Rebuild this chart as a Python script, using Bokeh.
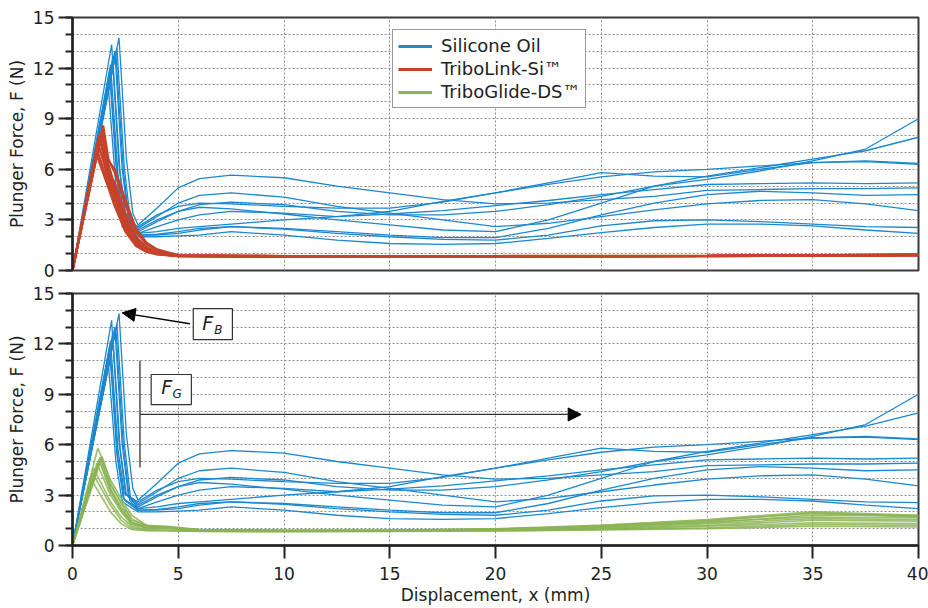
from bokeh.plotting import figure
from bokeh.layouts import column
from bokeh.models import (FixedTicker, Legend, LegendItem, Arrow, NormalHead,
                          Label, BoxAnnotation, Range1d)
from bokeh.embed import file_html
from bokeh.resources import INLINE

FONT = "DejaVu Sans"
BLUE = "#1b88d0"
RED = "#c5432b"
GREEN = "#8bb454"
NAN = float("nan")

X_TICKS = [0, 5, 10, 15, 20, 25, 30, 35, 40]
Y_TICKS = [0, 3, 6, 9, 12, 15]
Y_MINOR = list(range(0, 16))

# ---------------- Silicone Oil (blue) ----------------
SILICONE_PEAK_X = [2.2, 1.85, 2.0, 1.9, 1.8, 2.1, 1.75, 1.8, 2.05, 1.7]
SILICONE_PEAK_Y = [13.8, 13.4, 13.0, 12.6, 12.2, 13.2, 11.8, 11.2, 12.9, 10.8]
SILICONE_FALL_X = [[2.55, 2.85], [2.2, 2.5], [2.35, 2.65], [2.25, 2.55], [2.15, 2.45],
                   [2.45, 2.75], [2.1, 2.4], [2.15, 2.45], [2.4, 2.7], [2.05, 2.35]]
SILICONE_FALL_Y = [[6.6, 3.4], [6.2, 3.1], [6.0, 2.9], [5.8, 3.0], [5.7, 3.1],
                   [6.1, 2.8], [5.4, 2.8], [5.2, 2.7], [6.0, 2.7], [5.0, 2.6]]
SILICONE_POST_X = [3.1, 4, 5, 6, 7.5, 10, 12.5, 15, 17.5, 20, 22.5, 25, 27.5, 30, 32.5, 35, 37.5, 40]
SILICONE_POST_Y = [
    [2.7, 3.7, 4.9, 5.45, 5.65, 5.5, 5.0, 4.6, 4.2, 3.95, 4.0, 4.2, 4.4, 4.75, 4.8, 4.85, 4.85, 4.9],
    [2.5, 3.2, 4.0, 4.45, 4.6, 4.35, 3.8, 3.4, 3.0, 2.6, 2.8, 3.2, 3.6, 3.95, 4.15, 4.2, 3.95, 3.55],
    [2.3, 2.9, 3.5, 3.9, 4.05, 3.9, 3.5, 3.3, 3.3, 3.5, 3.9, 4.4, 5.0, 5.4, 5.9, 6.5, 7.2, 9.0],
    [2.4, 3.0, 3.5, 3.75, 3.65, 3.35, 3.0, 2.7, 2.4, 2.3, 3.0, 4.0, 5.0, 5.6, 6.1, 6.6, 7.1, 7.9],
    [2.6, 3.3, 3.8, 4.0, 3.95, 3.8, 3.7, 3.7, 4.05, 4.6, 5.1, 5.55, 5.85, 6.0, 6.2, 6.4, 6.45, 6.3],
    [2.2, 2.6, 3.0, 3.3, 3.5, 3.4, 3.2, 3.5, 4.1, 4.6, 5.2, 5.8, 5.6, 5.55, 6.0, 6.4, 6.5, 6.35],
    [2.2, 2.3, 2.5, 2.6, 2.75, 3.0, 3.2, 3.35, 3.55, 3.85, 4.15, 4.5, 4.8, 5.1, 5.15, 5.2, 5.15, 5.2],
    [2.1, 2.15, 2.3, 2.5, 2.6, 2.5, 2.3, 2.1, 1.95, 1.95, 2.5, 3.3, 4.0, 4.5, 4.7, 4.6, 4.45, 4.5],
    [2.1, 2.1, 2.2, 2.4, 2.6, 2.45, 2.2, 2.0, 1.85, 1.8, 2.1, 2.65, 2.95, 3.0, 2.9, 2.75, 2.6, 2.55],
    [2.0, 2.0, 2.05, 2.1, 2.3, 2.1, 1.8, 1.6, 1.55, 1.6, 1.9, 2.25, 2.55, 2.75, 2.75, 2.65, 2.4, 2.2],
]

# ---------------- TriboLink-Si (red) ----------------
TRIBOLINK_PEAK_X = [1.45, 1.35, 1.3, 1.2, 1.25, 1.15, 1.4, 1.1, 1.3, 1.2]
TRIBOLINK_PEAK_Y = [8.6, 8.2, 7.9, 7.6, 8.0, 7.2, 8.3, 7.0, 7.7, 7.4]
TRIBOLINK_POST_X = [1.7, 2.0, 2.5, 3.0, 3.5, 4, 5, 10, 20, 30, 40]
TRIBOLINK_POST_Y = [
    [6.6, 5.8, 3.9, 2.3, 1.55, 1.2, 0.9, 0.85, 0.85, 0.86, 0.93],
    [6.3, 5.0, 3.1, 1.9, 1.3, 1.05, 0.87, 0.82, 0.84, 0.86, 0.9],
    [5.9, 4.8, 2.9, 1.8, 1.25, 1.02, 0.86, 0.83, 0.82, 0.85, 0.93],
    [5.4, 4.3, 2.6, 1.6, 1.2, 0.98, 0.85, 0.84, 0.83, 0.86, 0.95],
    [6.0, 4.7, 2.8, 1.7, 1.25, 1.03, 0.87, 0.85, 0.85, 0.87, 0.92],
    [5.1, 4.0, 2.4, 1.5, 1.15, 0.97, 0.85, 0.82, 0.84, 0.85, 0.9],
    [6.5, 6.0, 4.2, 2.5, 1.65, 1.25, 0.92, 0.86, 0.86, 0.88, 0.94],
    [4.9, 3.8, 2.3, 1.45, 1.1, 0.95, 0.85, 0.83, 0.83, 0.85, 0.9],
    [5.7, 4.5, 2.7, 1.65, 1.2, 1.0, 0.86, 0.84, 0.84, 0.86, 0.93],
    [5.8, 5.2, 3.4, 2.0, 1.4, 1.1, 0.9, 0.85, 0.85, 0.87, 0.95],
]

# ---------------- TriboGlide-DS (green) ----------------
TRIBOGLIDE_PEAK_X = [1.2, 1.3, 1.35, 1.25, 1.4, 1.0, 0.95, 0.9, 1.15, 1.3]
TRIBOGLIDE_PEAK_Y = [5.8, 5.25, 5.2, 5.1, 5.3, 4.6, 4.3, 3.9, 4.9, 5.0]
TRIBOGLIDE_POST_X = [1.8, 2.3, 2.8, 3.5, 4.5, 6, 10, 15, 20, 25, 30, 35, 40]
TRIBOGLIDE_POST_Y = [
    [3.9, 2.8, 1.8, 1.2, 1.05, 0.95, 0.9, 0.9, 0.95, 1.15, 1.45, 1.95, 1.75],
    [3.6, 2.6, 1.6, 1.15, 1.1, 0.9, 0.88, 0.9, 0.95, 1.2, 1.5, 1.9, 1.7],
    [3.4, 2.3, 1.4, 1.1, 1.05, 0.92, 0.87, 0.88, 1.0, 1.1, 1.35, 1.8, 1.8],
    [3.2, 2.1, 1.3, 1.05, 1.0, 0.9, 0.86, 0.9, 0.98, 1.05, 1.3, 1.6, 1.55],
    [3.7, 2.5, 1.5, 1.2, 1.15, 0.95, 0.9, 0.88, 0.92, 1.0, 1.2, 1.5, 1.45],
    [2.6, 1.7, 1.15, 0.95, 0.9, 0.85, 0.85, 0.87, 0.9, 1.0, 1.15, 1.35, 1.3],
    [2.4, 1.5, 1.05, 0.9, 0.9, 0.85, 0.83, 0.85, 0.88, 0.95, 1.05, 1.25, 1.2],
    [2.0, 1.3, 0.95, 0.88, 0.88, 0.84, 0.82, 0.84, 0.86, 0.92, 1.0, 1.15, 1.1],
    [3.0, 2.0, 1.25, 1.05, 1.05, 0.92, 0.88, 0.9, 0.95, 1.1, 1.4, 1.7, 1.65],
    [3.3, 2.2, 1.35, 1.1, 1.1, 0.93, 0.9, 0.92, 1.0, 1.2, 1.55, 2.0, 1.8],
]

LEGEND_LABELS = ["Silicone Oil", "TriboLink-Si\u2122", "TriboGlide-DS\u2122"]
Y_LABEL = "Plunger Force, F (N)"
X_LABEL = "Displacement, x (mm)"

TEXT_SIZE = "17px"
LEGEND_SIZE = "18px"
INK = "#222222"


def silicone_curves():
    xs, ys = [], []
    for i in range(len(SILICONE_PEAK_X)):
        xs.append([0.0, SILICONE_PEAK_X[i]] + SILICONE_FALL_X[i] + SILICONE_POST_X)
        ys.append([0.0, SILICONE_PEAK_Y[i]] + SILICONE_FALL_Y[i] + SILICONE_POST_Y[i])
    return xs, ys


def simple_curves(peak_x, peak_y, post_x, post_y):
    xs, ys = [], []
    for i in range(len(peak_x)):
        xs.append([0.0, peak_x[i]] + post_x)
        ys.append([0.0, peak_y[i]] + post_y[i])
    return xs, ys


def make_fig(height, border_top, border_bottom):
    p = figure(width=928, height=height, x_range=Range1d(0, 40), y_range=Range1d(0, 15),
               output_backend="svg", toolbar_location=None,
               min_border_left=72, min_border_right=10,
               min_border_top=border_top, min_border_bottom=border_bottom)
    p.outline_line_color = "#3a3a3a"
    p.outline_line_width = 2
    p.outline_line_alpha = 1
    p.background_fill_color = "white"
    p.border_fill_color = "white"

    p.xgrid.ticker = FixedTicker(ticks=[5, 10, 15, 20, 25, 30, 35])
    p.ygrid.ticker = FixedTicker(ticks=list(range(1, 15)))
    for g in (p.xgrid, p.ygrid):
        g.grid_line_color = "#8c8c8c"
        g.grid_line_dash = "2 2"
        g.grid_line_width = 1

    ya = p.yaxis[0]
    ya.ticker = FixedTicker(ticks=Y_TICKS, minor_ticks=Y_MINOR)
    ya.axis_line_color = INK
    ya.axis_line_width = 2.5
    ya.major_tick_line_color = INK
    ya.major_tick_line_width = 2
    ya.major_tick_out = 14
    ya.major_tick_in = 0
    ya.minor_tick_line_color = INK
    ya.minor_tick_line_width = 2
    ya.minor_tick_out = 7
    ya.minor_tick_in = 0
    ya.major_label_text_font = FONT
    ya.major_label_text_font_size = TEXT_SIZE
    ya.major_label_text_color = INK
    ya.major_label_standoff = 4
    ya.axis_label = Y_LABEL
    ya.axis_label_text_font = FONT
    ya.axis_label_text_font_size = TEXT_SIZE
    ya.axis_label_text_font_style = "normal"
    ya.axis_label_text_color = INK
    ya.axis_label_standoff = 3

    xa = p.xaxis[0]
    xa.ticker = FixedTicker(ticks=X_TICKS)
    xa.axis_line_color = INK
    xa.axis_line_width = 2.5
    xa.major_tick_line_color = INK
    xa.major_tick_line_width = 2
    xa.major_tick_out = 13
    xa.major_tick_in = 0
    xa.minor_tick_line_color = None
    xa.major_label_text_font = FONT
    xa.major_label_text_font_size = TEXT_SIZE
    xa.major_label_text_color = INK
    xa.major_label_standoff = 8
    xa.axis_label = X_LABEL
    xa.axis_label_text_font = FONT
    xa.axis_label_text_font_size = TEXT_SIZE
    xa.axis_label_text_font_style = "normal"
    xa.axis_label_text_color = INK
    xa.axis_label_standoff = 2
    return p


sil_xs, sil_ys = silicone_curves()
red_xs, red_ys = simple_curves(TRIBOLINK_PEAK_X, TRIBOLINK_PEAK_Y, TRIBOLINK_POST_X, TRIBOLINK_POST_Y)
grn_xs, grn_ys = simple_curves(TRIBOGLIDE_PEAK_X, TRIBOGLIDE_PEAK_Y, TRIBOGLIDE_POST_X, TRIBOGLIDE_POST_Y)

# ---------------- top panel ----------------
p1 = make_fig(281, 17, 11)
p1.xaxis.visible = False
p1.multi_line(xs=sil_xs, ys=sil_ys, line_color=BLUE, line_width=1.3)
p1.multi_line(xs=red_xs, ys=red_ys, line_color=RED, line_width=2.2)

# legend-only renderers (no visible data)
lb = p1.line(x=[NAN, NAN], y=[NAN, NAN], line_color=BLUE, line_width=3)
lr = p1.line(x=[NAN, NAN], y=[NAN, NAN], line_color=RED, line_width=3)
lg = p1.line(x=[NAN, NAN], y=[NAN, NAN], line_color=GREEN, line_width=3)
legend = Legend(items=[LegendItem(label=LEGEND_LABELS[0], renderers=[lb]),
                       LegendItem(label=LEGEND_LABELS[1], renderers=[lr]),
                       LegendItem(label=LEGEND_LABELS[2], renderers=[lg])],
                location=(320, 162), orientation="vertical",
                label_text_font=FONT, label_text_font_size=LEGEND_SIZE, label_text_color=INK,
                glyph_width=34, glyph_height=20, label_height=20, spacing=2,
                padding=5, margin=0, label_standoff=9,
                border_line_color="#333333", border_line_width=1.5,
                background_fill_color="white", background_fill_alpha=1)
p1.add_layout(legend)

# ---------------- bottom panel ----------------
p2 = make_fig(327, 12, 63)
p2.multi_line(xs=sil_xs, ys=sil_ys, line_color=BLUE, line_width=1.3)
p2.multi_line(xs=grn_xs, ys=grn_ys, line_color=GREEN, line_width=1.6, line_alpha=0.85)

# annotations: F_B
p2.add_layout(Arrow(end=NormalHead(size=13, fill_color="black", line_color="black"),
                    x_start=5.55, y_start=13.2, x_end=2.35, y_end=13.85,
                    line_color="black", line_width=1.3))
p2.add_layout(BoxAnnotation(left=5.71, right=7.56, bottom=12.26, top=14.1,
                            fill_color="white", fill_alpha=1,
                            line_color="#333333", line_width=1.2, line_alpha=1))
p2.add_layout(Label(x=6.39, y=13.27, text="F", text_font=FONT, text_font_style="italic",
                    text_font_size="19px", text_align="center", text_baseline="middle",
                    text_color=INK))
p2.add_layout(Label(x=6.9, y=12.85, text="B", text_font=FONT, text_font_style="italic",
                    text_font_size="12px", text_align="center", text_baseline="middle",
                    text_color=INK))

# annotations: F_G
p2.add_layout(Arrow(end=None, x_start=3.19, y_start=11.0, x_end=3.19, y_end=4.64,
                    line_color="#333333", line_width=1.3))
p2.add_layout(Arrow(end=NormalHead(size=13, fill_color="black", line_color="black"),
                    x_start=3.19, y_start=7.8, x_end=24.05, y_end=7.8,
                    line_color="#333333", line_width=1.3))
p2.add_layout(BoxAnnotation(left=3.72, right=5.62, bottom=8.39, top=10.18,
                            fill_color="white", fill_alpha=1,
                            line_color="#333333", line_width=1.2, line_alpha=1))
p2.add_layout(Label(x=4.45, y=9.46, text="F", text_font=FONT, text_font_style="italic",
                    text_font_size="19px", text_align="center", text_baseline="middle",
                    text_color=INK))
p2.add_layout(Label(x=4.95, y=9.0, text="G", text_font=FONT, text_font_style="italic",
                    text_font_size="12px", text_align="center", text_baseline="middle",
                    text_color=INK))

layout = column(p1, p2, spacing=0)
open("out.html", "w").write(file_html(layout, INLINE))
